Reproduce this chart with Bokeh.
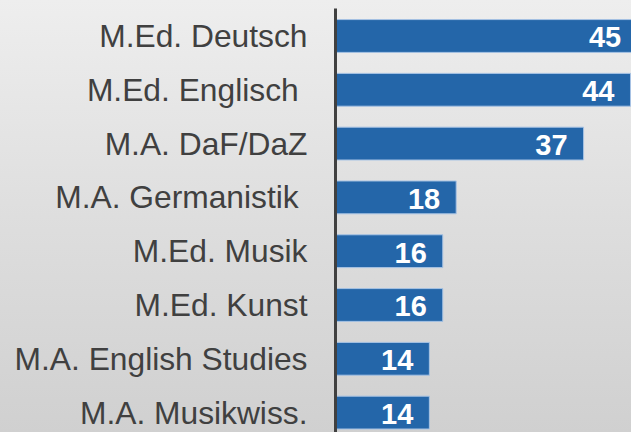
from bokeh.plotting import figure
from bokeh.models import Range1d, FixedTicker, ColumnDataSource, LabelSet
from bokeh.core.properties import value
from bokeh.embed import file_html
from bokeh.resources import INLINE

# Data (top to bottom)
programs = ["M.Ed. Deutsch", "M.Ed. Englisch ", "M.A. DaF/DaZ", "M.A. Germanistik ",
            "M.Ed. Musik", "M.Ed. Kunst", "M.A. English Studies", "M.A. Musikwiss."]
counts = [45, 44, 37, 18, 16, 16, 14, 14]

positions = list(range(len(programs)))
source = ColumnDataSource(dict(y=positions, v=counts, lbl=[str(c) for c in counts]))

p = figure(width=631, height=432, output_backend="svg", toolbar_location=None,
           x_range=Range1d(0, 44.15), y_range=Range1d(7.37, -0.511),
           min_border_left=335, min_border_right=0, min_border_top=8, min_border_bottom=0)

p.background_fill_alpha = 0
p.border_fill_alpha = 0
p.outline_line_color = None
p.styles = {"background": "linear-gradient(to bottom, #eeeeee 0%, #dedede 50%, #d0d0d0 100%)"}

p.hbar(y="y", right="v", left=0, height=0.61, source=source,
       fill_color="#2466a9", line_color="#a7c3e4", line_width=1)

labels = LabelSet(x="v", y="y", text="lbl", source=source, x_offset=-16, y_offset=-1.5,
                  text_align="right", text_baseline="middle", text_color="white",
                  text_font=value("Liberation Sans"), text_font_style="bold",
                  text_font_size="29px")
p.add_layout(labels)

p.xaxis.visible = False
p.xgrid.visible = False
p.ygrid.visible = False

ya = p.yaxis[0]
ya.ticker = FixedTicker(ticks=positions)
ya.major_label_overrides = {i: name for i, name in enumerate(programs)}
ya.major_label_text_font = "Liberation Sans"
ya.major_label_text_font_size = "31.75px"
ya.major_label_text_color = "#404040"
ya.major_label_standoff = 28
ya.major_tick_line_color = None
ya.major_tick_out = 0
ya.major_tick_in = 0
ya.minor_tick_line_color = None
ya.axis_line_color = "#404040"
ya.axis_line_width = 3

open("out.html", "w").write(file_html(p, INLINE))
